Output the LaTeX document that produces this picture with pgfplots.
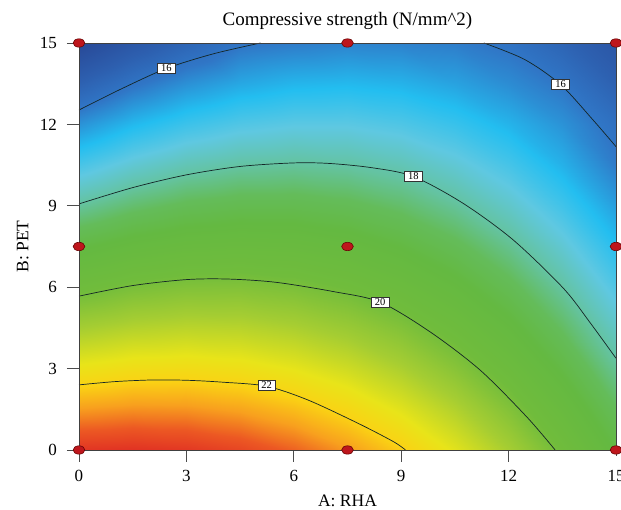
\documentclass[border=0pt]{standalone}
\usepackage{fontspec}
\setmainfont{Liberation Serif}
\usepackage{pgfplots}
\usepackage{pgfplotstable}
\pgfplotsset{compat=1.18}

% Fitted response surface: A (RHA), B (PET), f = compressive strength
\pgfplotstableread{
a b f
0 0 23.44
1.5 0 23.48
3 0 23.41
4.5 0 23.23
6 0 22.94
7.5 0 22.55
9 0 22.05
10.5 0 21.43
12 0 20.71
13.5 0 19.88
15 0 18.95
0 1.5 22.52
1.5 1.5 22.60
3 1.5 22.58
4.5 1.5 22.45
6 1.5 22.21
7.5 1.5 21.87
9 1.5 21.41
10.5 1.5 20.85
12 1.5 20.18
13.5 1.5 19.40
15 1.5 18.51
0 3 21.60
1.5 3 21.74
3 3 21.77
4.5 3 21.68
6 3 21.49
7.5 3 21.20
9 3 20.79
10.5 3 20.27
12 3 19.65
13.5 3 18.92
15 3 18.08
0 4.5 20.70
1.5 4.5 20.88
3 4.5 20.96
4.5 4.5 20.93
6 4.5 20.78
7.5 4.5 20.53
9 4.5 20.18
10.5 4.5 19.71
12 4.5 19.13
13.5 4.5 18.45
15 4.5 17.66
0 6 19.80
1.5 6 20.04
3 6 20.16
4.5 6 20.18
6 6 20.08
7.5 6 19.88
9 6 19.57
10.5 6 19.15
12 6 18.62
13.5 6 17.99
15 6 17.25
0 7.5 18.92
1.5 7.5 19.20
3 7.5 19.37
4.5 7.5 19.43
6 7.5 19.39
7.5 7.5 19.24
9 7.5 18.97
10.5 7.5 18.60
12 7.5 18.12
13.5 7.5 17.54
15 7.5 16.84
0 9 18.04
1.5 9 18.37
3 9 18.59
4.5 9 18.70
6 9 18.70
7.5 9 18.60
9 9 18.39
10.5 9 18.06
12 9 17.63
13.5 9 17.10
15 9 16.45
0 10.5 17.17
1.5 10.5 17.55
3 10.5 17.82
4.5 10.5 17.98
6 10.5 18.03
7.5 10.5 17.97
9 10.5 17.81
10.5 10.5 17.53
12 10.5 17.15
13.5 10.5 16.66
15 10.5 16.06
0 12 16.31
1.5 12 16.74
3 12 17.05
4.5 12 17.26
6 12 17.36
7.5 12 17.36
9 12 17.24
10.5 12 17.01
12 12 16.68
13.5 12 16.32
15 12 15.86
0 13.5 15.46
1.5 13.5 15.94
3 13.5 16.30
4.5 13.5 16.56
6 13.5 16.71
7.5 13.5 16.75
9 13.5 16.68
10.5 13.5 16.50
12 13.5 16.25
13.5 13.5 15.98
15 13.5 15.45
0 15 14.62
1.5 15 15.14
3 15 15.56
4.5 15 15.95
6 15 16.06
7.5 15 16.15
9 15 16.13
10.5 15 16.08
12 15 15.92
13.5 15 15.55
15 15 15.10
}\surface

\pgfplotsset{colormap={dex}{
  rgb255(0pt)=(40,72,150);
  rgb255(8pt)=(45,95,175);
  rgb255(14pt)=(48,118,198);
  rgb255(22pt)=(35,190,240);
  rgb255(28pt)=(95,200,225);
  rgb255(34pt)=(100,195,160);
  rgb255(39pt)=(100,188,90);
  rgb255(44pt)=(100,185,65);
  rgb255(53pt)=(112,188,60);
  rgb255(61pt)=(165,205,50);
  rgb255(69pt)=(232,228,25);
  rgb255(74pt)=(250,210,20);
  rgb255(79pt)=(248,160,30);
  rgb255(84pt)=(236,88,35);
  rgb255(89pt)=(224,48,35)
}}

\definecolor{ptfill}{RGB}{190,22,28}
\definecolor{ptdraw}{RGB}{105,5,5}
\definecolor{cline}{RGB}{20,38,38}

\tikzset{clabel/.style={fill=white, draw=black!80, line width=0.45pt,
  inner xsep=3.6pt, inner ysep=1.4pt, font=\fontsize{10.5}{10.5}\selectfont}}

\begin{document}
\begin{tikzpicture}
\begin{axis}[
  at={(0,0)}, anchor=south west,
  width=537pt, height=407pt, scale only axis,
  xmin=0, xmax=15, ymin=0, ymax=15,
  xtick={0,3,...,15}, ytick={0,3,...,15},
  tick align=outside, xtick pos=bottom, ytick pos=left,
  major tick length=12pt,
  every tick/.style={black!70, line width=0.8pt},
  xtick style={shorten <=6pt},
  axis line style={black!75, line width=0.8pt},
  axis on top, clip=false,
  colormap name=dex,
  point meta min=14.6, point meta max=23.5,
  /pgf/number format/assume math mode=true,
  tick label style={font=\fontsize{17}{17}\selectfont},
  xticklabel style={inner sep=0pt, anchor=north, yshift=-8pt},
  yticklabel style={inner sep=0pt, anchor=east, xshift=-10pt},
  title={Compressive strength (N/mm\textasciicircum 2)},
  title style={at={(axis description cs:0.5,1.0467)}, anchor=base, inner sep=0pt,
    yshift=-8pt, font=\fontsize{19}{19}\selectfont},
  xlabel={A: RHA},
  xlabel style={at={(axis description cs:0.5,-0.14)}, anchor=base, inner sep=0pt,
    font=\fontsize{17.5}{17.5}\selectfont},
  ylabel={B: PET},
  ylabel style={at={(axis description cs:-0.0945,0.5)}, anchor=base, inner sep=0pt,
    font=\fontsize{17.5}{17.5}\selectfont},
]
\addplot[surf, shader=interp, mesh/rows=11, mesh/cols=11, point meta=\thisrow{f}]
  table[x=a, y=b] {\surface};

% contour lines
\addplot[cline, line width=0.7pt, smooth] coordinates {
  (0,2.40) (1,2.52) (2.03,2.58) (3,2.57) (4,2.50) (5.24,2.35) (6.4,1.84) (7.8,0.98) (8.78,0.31) (9.12,0)};
\addplot[cline, line width=0.7pt, smooth] coordinates {
  (0,5.67) (1.5,6.06) (3,6.28) (4.17,6.30) (5.5,6.18) (7.1,5.84) (8.41,5.45) (9.8,4.36) (11.2,2.95) (12.5,1.23) (13.3,0)};
\addplot[cline, line width=0.7pt, smooth] coordinates {
  (0,9.07) (1.5,9.67) (3,10.14) (4.5,10.45) (6,10.58) (7,10.56) (8.2,10.40) (9.34,10.08) (10.73,9.09) (12.13,7.74) (13.53,5.96) (14.3,4.65) (15,3.38)};
\addplot[cline, line width=0.7pt, smooth] coordinates {
  (0,12.53) (1.2,13.32) (2.44,14.06) (3.75,14.6) (5.07,15)};
\addplot[cline, line width=0.7pt, smooth] coordinates {
  (11.31,15) (12.45,14.39) (13.45,13.47) (14.36,12.16) (15,11.18)};

\node[clabel] at (axis cs:5.24,2.38) {22};
\node[clabel] at (axis cs:8.41,5.45) {20};
\node[clabel] at (axis cs:9.34,10.08) {18};
\node[clabel] at (axis cs:2.44,14.06) {16};
\node[clabel] at (axis cs:13.45,13.47) {16};

% design points
\addplot[only marks, mark=*, mark size=4.2pt,
  mark options={xscale=1.4, fill=ptfill, draw=ptdraw, line width=0.6pt}]
  coordinates {(0,0) (7.5,0) (15,0) (0,7.5) (7.5,7.5) (15,7.5) (0,15) (7.5,15) (15,15)};
\end{axis}
\pgfresetboundingbox
\path[use as bounding box] (-79pt,-60pt) rectangle (542pt,450pt);
\end{tikzpicture}
\end{document}
